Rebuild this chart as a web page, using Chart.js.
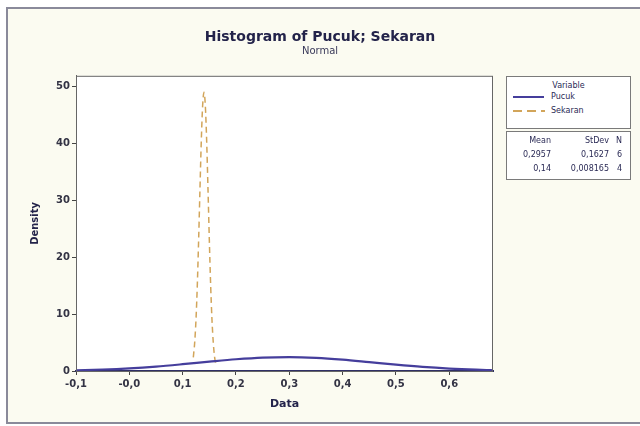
<!DOCTYPE html>
<html>
<head>
<meta charset="utf-8">
<script src="https://cdn.jsdelivr.net/npm/chart.js@4.4.1/dist/chart.umd.min.js"></script>
<style>
  body { margin: 0; background: #fff; }
  #wrap { position: relative; width: 640px; height: 426px; }
  .box { position: absolute; border: 1px solid #7a7a7a; background: #fff;
         font-family: "DejaVu Sans", sans-serif; font-size: 8px; color: #2a2a55; }
  .box div { position: absolute; white-space: nowrap; }
</style>
</head>
<body>
<div id="wrap">
  <canvas id="chart" width="640" height="426"></canvas>

  <div class="box" style="left:506px; top:76px; width:123px; height:51px;">
    <div style="left:0; width:123px; top:4px; text-align:center;">Variable</div>
    <div style="left:6px; top:19px; width:31px; height:2px; background:#453e9c;"></div>
    <div style="left:44px; top:15px;">Pucuk</div>
    <div style="left:6px; top:33px; width:32px; height:2px;
                background:repeating-linear-gradient(90deg, #d2a55a 0 9px, transparent 9px 14px);"></div>
    <div style="left:44px; top:29px;">Sekaran</div>
  </div>

  <div class="box" style="left:506px; top:131px; width:123px; height:47px;">
    <div style="right:79px; top:4px;">Mean</div>
    <div style="right:21px; top:4px;">StDev</div>
    <div style="right:8px; top:4px;">N</div>
    <div id="m0" style="right:79px; top:18px;"></div>
    <div id="s0" style="right:21px; top:18px;"></div>
    <div id="n0" style="right:8px; top:18px;"></div>
    <div id="m1" style="right:79px; top:32px;"></div>
    <div id="s1" style="right:21px; top:32px;"></div>
    <div id="n1" style="right:8px; top:32px;"></div>
  </div>
</div>

<script>
// values
const seriesNames = ['Pucuk', 'Sekaran'];
const means = ['0,2957', '0,14'];
const stdevs = ['0,1627', '0,008165'];
const counts = ['6', '4'];

const pucukX = [-0.1, -0.05, 0, 0.05, 0.1, 0.15, 0.2, 0.25, 0.3, 0.35, 0.4, 0.45, 0.5, 0.55, 0.6, 0.65, 0.68];
const pucukDensity = [0.13, 0.26, 0.47, 0.78, 1.19, 1.64, 2.06, 2.36, 2.45, 2.32, 2.0, 1.56, 1.11, 0.72, 0.43, 0.23, 0.15];

const sekaranX = [0.12, 0.1225, 0.125, 0.1275, 0.13, 0.1325, 0.135, 0.1375, 0.14, 0.1425, 0.145, 0.1475, 0.15, 0.1525, 0.155, 0.1575, 0.16, 0.1625];
const sekaranDensity = [2.4, 4.9, 9.0, 15.1, 23.1, 32.0, 40.5, 46.6, 48.9, 46.6, 40.5, 32.0, 23.1, 15.1, 9.0, 4.9, 2.4, 1.1];

const xTickValues = [-0.1, 0, 0.1, 0.2, 0.3, 0.4, 0.5, 0.6];
const xTickLabels = ['-0,1', '-0,0', '0,1', '0,2', '0,3', '0,4', '0,5', '0,6'];
const yTickValues = [0, 10, 20, 30, 40, 50];

for (let i = 0; i < 2; i++) {
    document.getElementById('m' + i).textContent = means[i];
    document.getElementById('s' + i).textContent = stdevs[i];
    document.getElementById('n' + i).textContent = counts[i];
}

function points(xs, ys) {
    return xs.map((x, i) => ({ x: x, y: ys[i] }));
}

// cream frame, white plot area and the box round it
const framePlugin = {
    id: 'frame',
    beforeDraw(chart) {
        const c = chart.ctx;
        const a = chart.chartArea;
        c.save();
        c.fillStyle = '#ffffff';
        c.fillRect(0, 0, chart.width, chart.height);
        c.fillStyle = '#fbfbf1';
        c.fillRect(7, 8, chart.width - 7, 415);
        c.strokeStyle = '#8a8a9a';
        c.lineWidth = 2;
        c.beginPath();
        c.moveTo(chart.width, 8);
        c.lineTo(7, 8);
        c.lineTo(7, 423);
        c.lineTo(chart.width, 423);
        c.stroke();
        c.fillStyle = '#ffffff';
        c.fillRect(a.left, a.top, a.right - a.left, a.bottom - a.top);
        c.restore();
    },
    afterDraw(chart) {
        const c = chart.ctx;
        const a = chart.chartArea;
        c.save();
        c.strokeStyle = '#666666';
        c.lineWidth = 1;
        c.strokeRect(a.left + 0.5, a.top + 0.5, a.right - a.left - 1, a.bottom - a.top);
        c.restore();
    }
};

const tickFont = { family: 'DejaVu Sans', size: 10, weight: 'bold' };

new Chart(document.getElementById('chart'), {
    type: 'line',
    data: {
        datasets: [{
            label: seriesNames[0],
            data: points(pucukX, pucukDensity),
            borderColor: '#453e9c',
            borderWidth: 2.2,
            pointRadius: 0,
            cubicInterpolationMode: 'monotone'
        }, {
            label: seriesNames[1],
            data: points(sekaranX, sekaranDensity),
            borderColor: '#d2a55a',
            borderWidth: 1.5,
            borderDash: [6, 4],
            pointRadius: 0,
            cubicInterpolationMode: 'monotone'
        }]
    },
    options: {
        responsive: false,
        animation: false,
        layout: { padding: 0 },
        plugins: {
            legend: { display: false },
            tooltip: { enabled: false },
            title: {
                display: true,
                text: 'Histogram of Pucuk; Sekaran',
                color: '#23234a',
                font: { family: 'DejaVu Sans', size: 14, weight: 'bold' },
                padding: { top: 29, bottom: 0 }
            },
            subtitle: {
                display: true,
                text: 'Normal',
                color: '#3a3a5a',
                font: { family: 'DejaVu Sans', size: 10 },
                padding: { top: 0, bottom: 18 }
            }
        },
        scales: {
            x: {
                type: 'linear',
                min: -0.1,
                max: 0.682,
                afterBuildTicks: s => { s.ticks = xTickValues.map(v => ({ value: v })); },
                afterFit: s => { s.height = 55; },
                ticks: {
                    callback: (v, i) => xTickLabels[i],
                    color: '#333344',
                    font: tickFont,
                    padding: 3,
                    maxRotation: 0
                },
                grid: { drawOnChartArea: false, drawTicks: true, tickLength: 4, color: '#444' },
                border: { color: '#2f2f66', width: 2 },
                title: {
                    display: true,
                    text: 'Data',
                    color: '#23234a',
                    font: { family: 'DejaVu Sans', size: 11, weight: 'bold' },
                    padding: { top: 0, bottom: 15 }
                }
            },
            y: {
                min: 0,
                max: 51.8,
                afterBuildTicks: s => { s.ticks = yTickValues.map(v => ({ value: v })); },
                afterFit: s => { s.width = 76; },
                ticks: {
                    color: '#333344',
                    font: tickFont,
                    padding: 2
                },
                grid: { drawOnChartArea: false, drawTicks: true, tickLength: 4, color: '#444' },
                border: { color: '#666', width: 1 },
                title: {
                    display: true,
                    text: 'Density',
                    color: '#23234a',
                    font: { family: 'DejaVu Sans', size: 10, weight: 'bold' },
                    padding: { top: 29, bottom: 0 }
                }
            },
            // empty right-hand scale that leaves room for the legend boxes
            side: {
                position: 'right',
                min: 0,
                max: 1,
                afterFit: s => { s.width = 147; },
                ticks: { display: false },
                grid: { display: false },
                border: { display: false }
            }
        }
    },
    plugins: [framePlugin]
});
</script>
</body>
</html>
